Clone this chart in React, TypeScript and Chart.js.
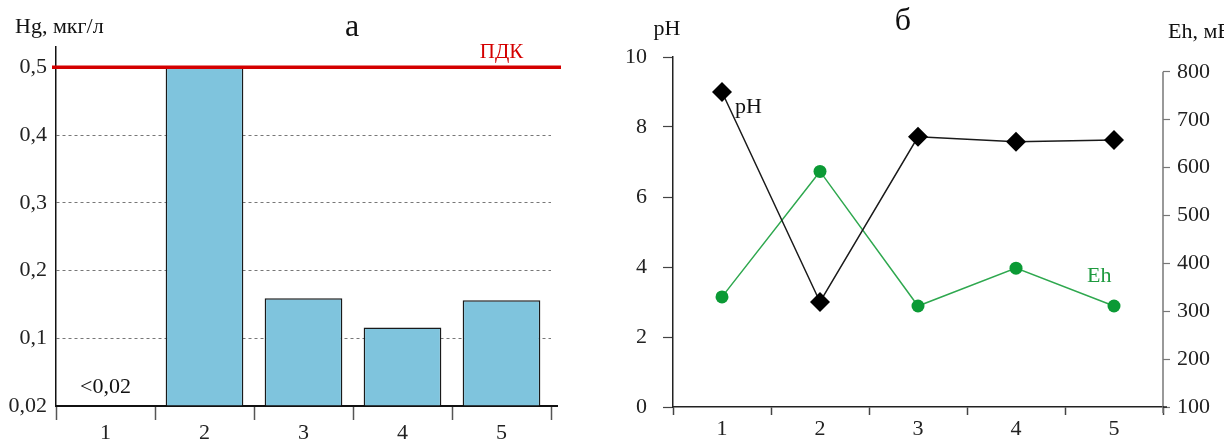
import React, { useEffect, useRef } from 'react';
import { Chart, registerables } from 'chart.js';

Chart.register(...registerables);

// ---- data ----
const sites = ['1', '2', '3', '4', '5'];
const hgValues: (number | null)[] = [null, 0.5, 0.159, 0.116, 0.156];
const hgTicks = [0, 0.1, 0.2, 0.3, 0.4, 0.5];
const hgTickLabels = ['0,02', '0,1', '0,2', '0,3', '0,4', '0,5'];
const pdkValue = 0.5;
const belowDetection = '<0,02';

const phValues = [9.0, 3.0, 7.72, 7.58, 7.63];
const ehValues = [330, 592, 311, 390, 311];
const phTicks = [0, 2, 4, 6, 8, 10];
const ehTicks = [100, 200, 300, 400, 500, 600, 700, 800];

const FONT = '"Liberation Serif", "Times New Roman", serif';

const leftDecor = {
  id: 'leftDecor',
  afterDraw(chart: any) {
    const { ctx, chartArea, scales } = chart;
    const x = scales.x;
    const y = scales.y;
    ctx.save();
    // extend x axis a little to the right
    const y0 = y.getPixelForValue(0);
    ctx.strokeStyle = '#111';
    ctx.lineWidth = 2;
    ctx.beginPath();
    ctx.moveTo(chartArea.right, y0);
    ctx.lineTo(chartArea.right + 7, y0);
    ctx.stroke();
    // PDK line
    const yp = y.getPixelForValue(pdkValue);
    ctx.strokeStyle = '#d40000';
    ctx.lineWidth = 3.5;
    ctx.beginPath();
    ctx.moveTo(chartArea.left - 4, yp);
    ctx.lineTo(chartArea.right + 10, yp);
    ctx.stroke();
    // texts
    ctx.textBaseline = 'middle';
    ctx.fillStyle = '#d40000';
    ctx.font = `21px ${FONT}`;
    ctx.textAlign = 'center';
    ctx.fillText('ПДК', x.getPixelForValue(4), yp - 15);
    ctx.fillStyle = '#111';
    ctx.font = `22px ${FONT}`;
    ctx.textAlign = 'left';
    ctx.fillText('Hg, мкг/л', 15, 27);
    ctx.textAlign = 'center';
    ctx.fillText(belowDetection, x.getPixelForValue(0), y0 - 19);
    ctx.font = `32px ${FONT}`;
    ctx.fillText('а', chartArea.left + 296, 28);
    ctx.restore();
  },
};

const rightDecor = {
  id: 'rightDecor',
  afterDraw(chart: any) {
    const { ctx, chartArea, scales } = chart;
    const x = scales.x;
    const y = scales.y;
    const y2 = scales.y2;
    ctx.save();
    // right axis line from 800 down
    ctx.strokeStyle = '#777';
    ctx.lineWidth = 1.5;
    ctx.beginPath();
    ctx.moveTo(chartArea.right, y2.getPixelForValue(ehTicks[ehTicks.length - 1]));
    ctx.lineTo(chartArea.right, chartArea.bottom + 6);
    ctx.stroke();
    // x axis extension
    ctx.strokeStyle = '#222';
    ctx.beginPath();
    ctx.moveTo(chartArea.right, chartArea.bottom);
    ctx.lineTo(chartArea.right + 4, chartArea.bottom);
    ctx.stroke();
    // texts
    ctx.textBaseline = 'middle';
    ctx.fillStyle = '#111';
    ctx.font = `22px ${FONT}`;
    ctx.textAlign = 'center';
    ctx.fillText('pH', chartArea.left - 6, 29);
    ctx.textAlign = 'left';
    ctx.fillText('Eh, мВ', chartArea.right + 5, 32);
    ctx.fillText('pH', x.getPixelForValue(0) + 13, y.getPixelForValue(phValues[0]) + 15);
    ctx.fillStyle = '#1f9a3f';
    ctx.fillText('Eh', x.getPixelForValue(3) + 71, y2.getPixelForValue(ehValues[3]) + 8);
    ctx.fillStyle = '#111';
    ctx.textAlign = 'center';
    ctx.font = `32px ${FONT}`;
    ctx.fillText('б', chartArea.left + 230, 22);
    ctx.restore();
  },
};

export default function App() {
  const leftRef = useRef<HTMLCanvasElement>(null);
  const rightRef = useRef<HTMLCanvasElement>(null);

  useEffect(() => {
    const tickFont = { family: FONT, size: 22 };
    const left = new Chart(leftRef.current as HTMLCanvasElement, {
      type: 'bar',
      data: {
        labels: sites,
        datasets: [
          {
            data: hgValues as any,
            backgroundColor: '#7FC4DD',
            borderColor: '#1a1a1a',
            borderWidth: 1.5,
            barPercentage: 0.785,
            categoryPercentage: 1,
          },
        ],
      },
      options: {
        animation: false,
        responsive: false,
        layout: { padding: { top: 47, right: 49, left: 0, bottom: 0 } },
        plugins: { legend: { display: false }, tooltip: { enabled: false } },
        scales: {
          x: {
            type: 'category',
            offset: true,
            grid: { offset: true, drawOnChartArea: false, tickLength: 14, tickColor: '#555', tickWidth: 1.5 },
            border: { color: '#111', width: 2 },
            ticks: { font: tickFont, color: '#222', padding: 0 },
            afterFit: (s: any) => { s.height = 35; },
          },
          y: {
            min: 0,
            max: 0.53,
            afterBuildTicks: (s: any) => { s.ticks = hgTicks.map((v) => ({ value: v })); },
            ticks: {
              font: tickFont,
              color: '#222',
              padding: 9,
              callback: (_v: any, i: number) => hgTickLabels[i],
            },
            grid: {
              drawTicks: false,
              lineWidth: 1,
              color: (c: any) =>
                c.tick && c.tick.value > 0 && c.tick.value < pdkValue ? '#777' : 'rgba(0,0,0,0)',
            },
            border: { color: '#111', width: 1.5, dash: [3, 3] },
            afterFit: (s: any) => { s.width = 56; },
          },
        },
      } as any,
      plugins: [leftDecor],
    });

    const right = new Chart(rightRef.current as HTMLCanvasElement, {
      type: 'line',
      data: {
        labels: sites,
        datasets: [
          {
            label: 'pH',
            data: phValues,
            yAxisID: 'y',
            borderColor: '#1a1a1a',
            borderWidth: 1.5,
            pointStyle: 'rectRot',
            pointRadius: 10,
            pointBackgroundColor: '#000',
            pointBorderColor: '#000',
            pointBorderWidth: 0,
            tension: 0,
          },
          {
            label: 'Eh',
            data: ehValues,
            yAxisID: 'y2',
            borderColor: '#2fa84f',
            borderWidth: 1.5,
            pointStyle: 'circle',
            pointRadius: 6.5,
            pointBackgroundColor: '#0b9a35',
            pointBorderColor: '#0b9a35',
            pointBorderWidth: 0,
            tension: 0,
          },
        ],
      },
      options: {
        animation: false,
        responsive: false,
        layout: { padding: { top: 57, right: 0, left: 0, bottom: 0 } },
        plugins: { legend: { display: false }, tooltip: { enabled: false } },
        scales: {
          x: {
            type: 'category',
            offset: true,
            grid: { offset: true, drawOnChartArea: false, tickLength: 8, tickColor: '#444', tickWidth: 1.5 },
            border: { color: '#222', width: 1.5 },
            ticks: { font: tickFont, color: '#222', padding: 1 },
            afterFit: (s: any) => { s.height = 34; },
          },
          y: {
            position: 'left',
            min: 0,
            max: 10,
            afterBuildTicks: (s: any) => { s.ticks = phTicks.map((v) => ({ value: v })); },
            ticks: { font: tickFont, color: '#222', padding: 16 },
            grid: { drawOnChartArea: false, tickLength: 10, tickColor: '#444', tickWidth: 1.2 },
            border: { color: '#222', width: 1.5 },
            afterFit: (s: any) => { s.width = 73; },
          },
          y2: {
            position: 'right',
            min: 100,
            max: 831,
            afterBuildTicks: (s: any) => { s.ticks = ehTicks.map((v) => ({ value: v })); },
            ticks: { font: tickFont, color: '#222', padding: 7 },
            grid: { drawOnChartArea: false, tickLength: 7, tickColor: '#777', tickWidth: 1.2 },
            border: { display: false },
            afterFit: (s: any) => { s.width = 61; },
          },
        },
      } as any,
      plugins: [rightDecor],
    });

    return () => {
      left.destroy();
      right.destroy();
    };
  }, []);

  return (
    <div style={{ position: 'fixed', left: 0, top: 0, width: 1224, height: 441, background: '#fff', overflow: 'hidden' }}>
      <canvas ref={leftRef} width={600} height={441} style={{ position: 'absolute', left: 0, top: 0 }} />
      <canvas ref={rightRef} width={624} height={441} style={{ position: 'absolute', left: 600, top: 0 }} />
    </div>
  );
}
